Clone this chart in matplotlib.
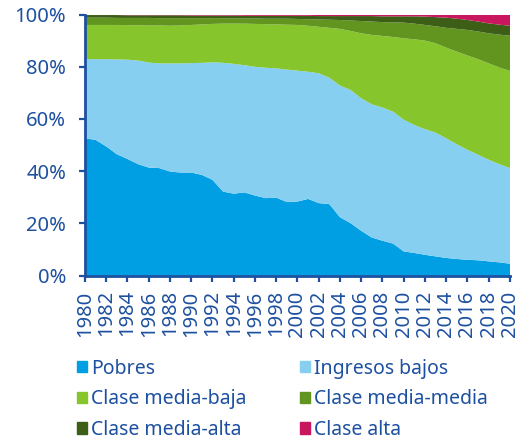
import matplotlib
matplotlib.use('Agg')
import matplotlib.pyplot as plt
from matplotlib.patches import Patch
from matplotlib.ticker import FuncFormatter

# data (% of population)
years = list(range(1980, 2021))

pobres = [52.6, 52.0, 49.5, 46.5, 44.7, 42.7, 41.4, 41.2, 39.9, 39.5,
          39.5, 38.6, 36.7, 32.2, 31.4, 31.9, 30.7, 29.7, 29.9, 28.2,
          28.4, 29.4, 27.8, 27.4, 22.4, 20.1, 17.2, 14.6, 13.4, 12.3,
          9.3, 8.7, 8.0, 7.4, 6.8, 6.4, 6.1, 5.9, 5.5, 5.1, 4.6]
ingresos_bajos = [30.3, 30.9, 33.4, 36.3, 38.0, 39.7, 40.2, 40.1, 41.4, 41.8,
                  41.9, 42.9, 45.0, 49.3, 49.7, 48.7, 49.3, 49.9, 49.5, 50.7,
                  50.1, 48.7, 49.7, 48.4, 50.4, 51.0, 50.7, 51.0, 51.0, 50.5,
                  50.4, 49.0, 48.1, 47.4, 45.8, 43.9, 42.1, 40.4, 38.9, 37.6, 36.6]
media_baja = [13.1, 13.1, 13.1, 13.2, 13.2, 13.5, 14.2, 14.5, 14.4, 14.5,
              14.6, 14.7, 14.7, 15.0, 15.4, 15.9, 16.4, 16.7, 16.8, 17.2,
              17.5, 17.6, 17.8, 19.1, 21.7, 22.6, 24.9, 26.6, 27.4, 28.6,
              31.2, 32.8, 33.9, 34.2, 34.7, 35.5, 36.1, 36.6, 36.9, 37.0, 37.2]
media_media = [2.8, 2.8, 2.8, 2.7, 2.8, 2.8, 2.9, 2.8, 2.9, 2.8,
               2.6, 2.4, 2.2, 2.1, 2.0, 2.0, 2.1, 2.1, 2.2, 2.3,
               2.3, 2.5, 2.8, 3.1, 3.4, 4.0, 4.7, 5.1, 5.3, 5.6,
               6.0, 6.0, 6.0, 6.5, 7.6, 8.7, 9.8, 10.6, 11.5, 12.6, 13.5]
media_alta = [1.0, 1.0, 1.0, 1.1, 1.0, 1.0, 1.0, 1.1, 1.1, 1.1,
              1.0, 1.0, 1.0, 1.0, 1.1, 1.0, 1.0, 1.1, 1.1, 1.1,
              1.2, 1.3, 1.3, 1.4, 1.5, 1.7, 1.9, 2.1, 2.2, 2.3,
              2.4, 2.8, 3.2, 3.5, 3.9, 3.9, 3.8, 3.8, 3.8, 3.8, 3.8]
alta = [0.2, 0.2, 0.2, 0.2, 0.3, 0.3, 0.3, 0.3, 0.3, 0.3,
        0.4, 0.4, 0.4, 0.4, 0.4, 0.5, 0.5, 0.5, 0.5, 0.5,
        0.5, 0.5, 0.6, 0.6, 0.6, 0.6, 0.6, 0.6, 0.7, 0.7,
        0.7, 0.7, 0.8, 1.0, 1.2, 1.6, 2.1, 2.7, 3.4, 3.9, 4.3]

labels = ['Pobres', 'Ingresos bajos', 'Clase media-baja',
          'Clase media-media', 'Clase media-alta', 'Clase alta']
colors = ['#009fe3', '#87cff1', '#86c52c', '#629520', '#3d5e17', '#c8175e']
navy = '#1d50a0'

plt.rcParams['font.family'] = ['Noto Sans', 'DejaVu Sans']

fig = plt.figure(figsize=(5.22, 4.41), dpi=100)
ax = fig.add_axes([0.1628, 0.3748, 0.8142, 0.5923])

ax.stackplot(years, pobres, ingresos_bajos, media_baja, media_media,
             media_alta, alta, colors=colors, linewidth=0)

ax.set_xlim(1980, 2020)
ax.set_ylim(0, 100)
ax.set_xticks(years[::2])
ax.set_xticklabels([str(y) for y in years[::2]], rotation=90)
ax.set_yticks(range(0, 101, 20))
ax.yaxis.set_major_formatter(FuncFormatter(lambda v, p: '%d%%' % v))

for s in ['top', 'right']:
  ax.spines[s].set_visible(False)
for s in ['left', 'bottom']:
  ax.spines[s].set_color(navy)
  ax.spines[s].set_linewidth(2)
ax.tick_params(colors=navy, width=1.6, length=4.5, labelsize=14.5)
ax.tick_params(axis='x', pad=6)
ax.tick_params(axis='y', pad=9)

#legend, filled column by column
handles = [Patch(color=c) for c in colors]
order = [0, 2, 4, 1, 3, 5]
fig.legend([handles[i] for i in order], [labels[i] for i in order],
           ncol=2, loc='upper left', bbox_to_anchor=(0.1475, 0.187),
           frameon=False, fontsize=14, labelcolor=navy,
           handlelength=0.52, handleheight=0.52, handletextpad=0.2,
           columnspacing=2.75, labelspacing=0.55, borderaxespad=0, borderpad=0)

fig.savefig('out.png', dpi=100)
